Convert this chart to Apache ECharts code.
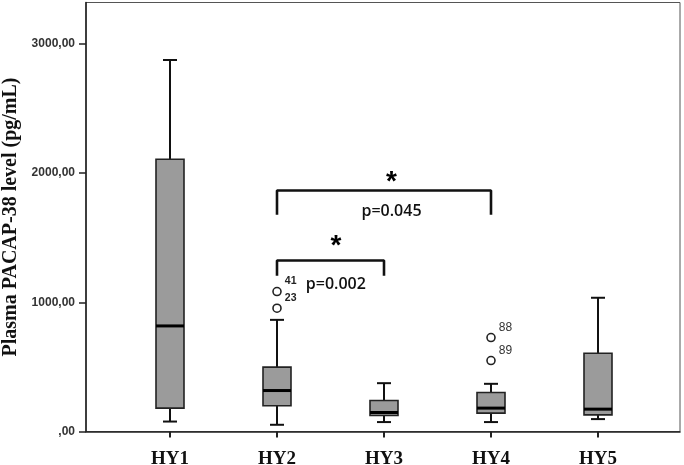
<!DOCTYPE html>
<html><head><meta charset="utf-8">
<script src="https://cdn.jsdelivr.net/npm/echarts@6/dist/echarts.min.js"></script>
<style>html,body{margin:0;padding:0;background:#fff}#c{width:684px;height:465px}</style>
</head><body><div id="c"></div>
<script>
// ---- data ----
const categories = ['HY1', 'HY2', 'HY3', 'HY4', 'HY5'];
const whiskerLow = [77, 52, 73, 73, 96];
const q1 = [181, 199, 124, 142, 129];
const median = [817, 317, 147, 181, 173];
const q3 = [2107, 498, 240, 302, 606];
const whiskerHigh = [2875, 864, 374, 369, 1035];

const outlierCategory = ['HY2', 'HY2', 'HY4', 'HY4'];
const outlierValues = [1083, 954, 727, 549];
const outlierIds = ['41', '23', '88', '89'];

const yTickValues = [0, 1000, 2000, 3000];
const yTickLabels = [',00', '1000,00', '2000,00', '3000,00'];
const yName = 'Plasma PACAP-38 level (pg/mL)';

const bracketFrom = ['HY2', 'HY2'];
const bracketTo = ['HY4', 'HY3'];
const bracketTop = [1865, 1323];
const bracketLeg = [1677, 1205];
const pLabels = ['p=0.045', 'p=0.002'];
const pLabelY = [1702, 1135];
const starY = [1972, 1478];
const annotationX = [2.07, 1.55];

// ---- chart ----
const Y_MAX = 3320;
const chart = echarts.init(document.getElementById('c'), null, {renderer: 'canvas'});

const boxData = categories.map((c, i) => [i, whiskerLow[i], q1[i], median[i], q3[i], whiskerHigh[i]]);

function renderBox(params, api) {
  const x = api.value(0);
  const lo = api.coord([x, api.value(1)]);
  const b1 = api.coord([x, api.value(2)]);
  const md = api.coord([x, api.value(3)]);
  const b3 = api.coord([x, api.value(4)]);
  const hi = api.coord([x, api.value(5)]);
  const hw = 14, cw = 7;
  const ls = {stroke: '#111', lineWidth: 2};
  return {
    type: 'group',
    children: [
      {type: 'line', shape: {x1: lo[0], y1: lo[1], x2: hi[0], y2: hi[1]}, style: ls},
      {type: 'line', shape: {x1: lo[0] - cw, y1: lo[1], x2: lo[0] + cw, y2: lo[1]}, style: ls},
      {type: 'line', shape: {x1: hi[0] - cw, y1: hi[1], x2: hi[0] + cw, y2: hi[1]}, style: ls},
      {type: 'rect', shape: {x: b3[0] - hw, y: b3[1], width: 2 * hw, height: b1[1] - b3[1]},
        style: {fill: '#9b9b9b', stroke: '#222', lineWidth: 1.6}},
      {type: 'line', shape: {x1: md[0] - hw, y1: md[1], x2: md[0] + hw, y2: md[1]},
        style: {stroke: '#000', lineWidth: 3}}
    ]
  };
}

const bracketSeries = bracketFrom.map((f, i) => ({
  type: 'line', xAxisIndex: 1, yAxisIndex: 1, symbol: 'none', silent: true, animation: false,
  lineStyle: {color: '#111', width: 2.6},
  data: [[f, bracketLeg[i]], [f, bracketTop[i]], [bracketTo[i], bracketTop[i]], [bracketTo[i], bracketLeg[i]]]
}));

const outlierData = outlierValues.map((v, i) => {
  const big = outlierCategory[i] === 'HY4';
  return {
    value: [outlierCategory[i], v],
    label: {
      show: true, formatter: outlierIds[i], position: 'right', distance: 3, offset: [0, -10],
      fontFamily: 'Liberation Sans', fontSize: big ? 12 : 10.5, fontWeight: big ? 'normal' : 'bold',
      color: big ? '#333' : '#222'
    }
  };
});

chart.setOption({
  animation: false,
  backgroundColor: '#fff',
  grid: [
    {left: 86, right: 4, top: 2.5, bottom: 33.5, show: true, borderColor: '#555', borderWidth: 1,
      outerBoundsMode: 'none', containLabel: false},
    {left: 116.5, right: 32.5, top: 2.5, bottom: 33.5, outerBoundsMode: 'none', containLabel: false}
  ],
  xAxis: [
    {gridIndex: 0, type: 'value', min: -0.785, max: 4.766,
      axisLine: {show: true, onZero: false, lineStyle: {color: '#222', width: 1.6}},
      axisTick: {show: false}, axisLabel: {show: false}, splitLine: {show: false}},
    {gridIndex: 1, type: 'category', data: categories,
      axisLine: {show: false, onZero: false},
      axisTick: {show: true, alignWithLabel: true, length: 6, lineStyle: {color: '#222', width: 2}},
      axisLabel: {fontFamily: 'Liberation Serif', fontWeight: 'bold', fontSize: 19, color: '#111', margin: 18},
      splitLine: {show: false}}
  ],
  yAxis: [
    {gridIndex: 0, type: 'value', min: 0, max: Y_MAX,
      axisLine: {show: true, onZero: false, lineStyle: {color: '#222', width: 1.6}},
      axisTick: {show: true, length: 7, customValues: yTickValues, lineStyle: {color: '#222', width: 1.5}},
      axisLabel: {customValues: yTickValues, margin: 11,
        formatter: v => yTickLabels[yTickValues.indexOf(v)] || '',
        fontFamily: 'Liberation Sans', fontWeight: 'bold', fontSize: 12, color: '#333'},
      splitLine: {show: false},
      name: yName, nameLocation: 'middle', nameGap: 62,
      nameTextStyle: {fontFamily: 'Liberation Serif', fontWeight: 'bold', fontSize: 20, color: '#111'}},
    {gridIndex: 1, type: 'value', min: 0, max: Y_MAX, show: false, splitLine: {show: false},
      axisLine: {onZero: false}}
  ],
  series: [
    {type: 'custom', xAxisIndex: 1, yAxisIndex: 1, renderItem: renderBox, data: boxData,
      encode: {x: 0, y: [1, 2, 3, 4, 5]}},
    {type: 'scatter', xAxisIndex: 1, yAxisIndex: 1, symbol: 'circle', symbolSize: 8,
      itemStyle: {color: '#fff', borderColor: '#222', borderWidth: 1.6, opacity: 1},
      data: outlierData},
    ...bracketSeries,
    {type: 'scatter', xAxisIndex: 0, yAxisIndex: 0, symbolSize: 0, silent: true,
      itemStyle: {opacity: 1},
      data: annotationX.map((x, i) => [x, starY[i]]),
      label: {show: true, position: 'inside', formatter: '*', fontFamily: 'Liberation Sans',
        fontWeight: 'bold', fontSize: 28, color: '#000', opacity: 1, offset: [0, 6]}},
    {type: 'scatter', xAxisIndex: 0, yAxisIndex: 0, symbolSize: 0, silent: true,
      itemStyle: {opacity: 1},
      data: annotationX.map((x, i) => ({value: [x, pLabelY[i]], name: pLabels[i]})),
      label: {show: true, position: 'inside', formatter: p => p.name, fontFamily: 'Open Sans',
        fontWeight: 600, fontSize: 16, color: '#111', opacity: 1}}
  ]
});
</script>
</body></html>
